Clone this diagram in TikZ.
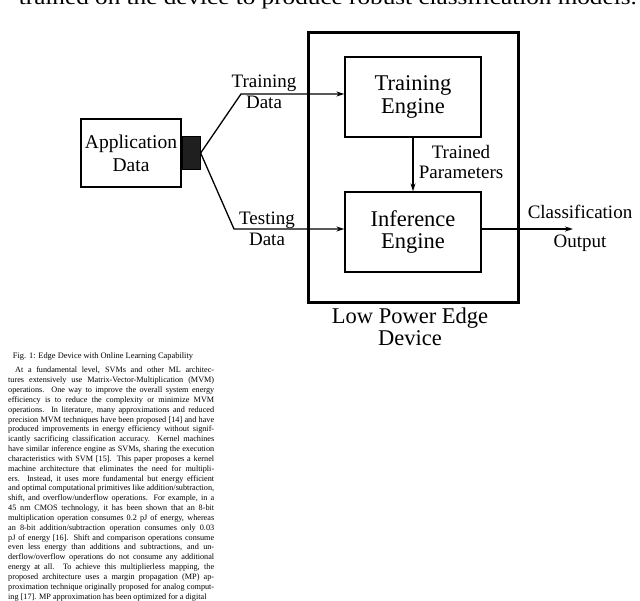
\documentclass[tikz,border=0pt]{standalone}
\usepackage{fontspec}
\setmainfont{Liberation Serif}
\usetikzlibrary{arrows.meta,positioning}

\begin{document}
\begin{tikzpicture}[x=1pt,y=-1pt,>={Stealth[length=8pt,width=5pt]},
        box/.style={draw,line width=1.3pt,inner sep=0pt,align=center},
        lbl/.style={align=center,inner sep=0pt,font=\fontsize{19}{21}\selectfont},
        wire/.style={line width=1.3pt}]
    \useasboundingbox (0,0) rectangle (640,601);

    % end of the text above the figure
    \node[anchor=base east,inner sep=0pt,font=\fontsize{21}{21}\selectfont] (toptext) at (637,5)
        {\scalebox{1.2}[1]{trained on the device to produce robust classification models.}};

    % the device and its two engines
    \node[box,line width=3pt,minimum width=210pt,minimum height=270pt] (dev) at (413,168) {};
    \node[box,minimum width=136pt,minimum height=80pt,font=\fontsize{22.5}{22.3}\selectfont] (train) at (413,97) {Training\\Engine};
    \node[box,minimum width=136pt,minimum height=80pt,font=\fontsize{22.5}{22.3}\selectfont] (infer) at (413,232) {Inference\\Engine};
    \node[lbl,font=\fontsize{22.5}{22}\selectfont] (devname) at (410,327) {Low Power Edge\\Device};

    % the data source
    \node[box,minimum width=100pt,minimum height=68pt,font=\fontsize{19.5}{23}\selectfont] (app) at (131,153) {Application\\Data};
    \node[draw,fill=black!88,line width=1pt,minimum width=18pt,minimum height=33pt,inner sep=0pt,anchor=west] (plug) at (app.east) {};

    \coordinate (trainbend) at (241,94);
    \coordinate (testbend) at (234,229);
    \coordinate (out) at (573,229);

    \draw[wire,->] (plug.east) -- (trainbend) -- (train.west |- trainbend);
    \draw[wire,->] (plug.east) -- (testbend) -- (infer.west |- testbend);
    \draw[wire,->] (train.south) -- (infer.north);
    \draw[wire,->] (infer.east |- out) -- (out);

    \node[lbl] (trainlbl) at (264,92) {Training\\Data};
    \node[lbl] (testlbl) at (267,229) {Testing\\Data};
    \node[lbl,font=\fontsize{19}{19.5}\selectfont] (paramlbl) at (461,162) {Trained\\Parameters};
    \node[lbl] (outlbl) at (580,228.5) {Classification\\[8pt]Output};

    % caption and the column of text below
    \node[inner sep=0pt,font=\fontsize{8.4}{9.83}\selectfont] (caption) at (103,356) {Fig. 1: Edge Device with Online Learning Capability};
    \node[anchor=base west,inner sep=0pt,text width=206pt,align=justify,font=\fontsize{8.2}{9.83}\selectfont] (body) at (8,373)
        {\hspace*{7pt}At a fundamental level, SVMs and other ML architec-\linebreak
        tures extensively use Matrix-Vector-Multiplication (MVM)\linebreak
        operations. One way to improve the overall system energy\linebreak
        efficiency is to reduce the complexity or minimize MVM\linebreak
        operations. In literature, many approximations and reduced\linebreak
        precision MVM techniques have been proposed [14] and have\linebreak
        produced improvements in energy efficiency without signif-\linebreak
        icantly sacrificing classification accuracy. Kernel machines\linebreak
        have similar inference engine as SVMs, sharing the execution\linebreak
        characteristics with SVM [15]. This paper proposes a kernel\linebreak
        machine architecture that eliminates the need for multipli-\linebreak
        ers. Instead, it uses more fundamental but energy efficient\linebreak
        and optimal computational primitives like addition/subtraction,\linebreak
        shift, and overflow/underflow operations. For example, in a\linebreak
        45 nm CMOS technology, it has been shown that an 8-bit\linebreak
        multiplication operation consumes 0.2 pJ of energy, whereas\linebreak
        an 8-bit addition/subtraction operation consumes only 0.03\linebreak
        pJ of energy [16]. Shift and comparison operations consume\linebreak
        even less energy than additions and subtractions, and un-\linebreak
        derflow/overflow operations do not consume any additional\linebreak
        energy at all. To achieve this multiplierless mapping, the\linebreak
        proposed architecture uses a margin propagation (MP) ap-\linebreak
        proximation technique originally proposed for analog comput-\linebreak
        ing [17]. MP approximation has been optimized for a digital};
\end{tikzpicture}
\end{document}
